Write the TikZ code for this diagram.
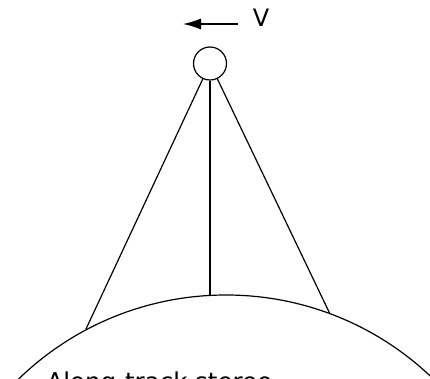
\documentclass[tikz,border=0pt]{standalone}
\usepackage{fontspec}
\setmainfont{DejaVu Sans}
\usepackage{tikz}
\usetikzlibrary{arrows.meta}

\begin{document}
\begin{tikzpicture}[x=1pt, y=-1pt, line width=1.2pt,
  every node/.style={font=\fontsize{24}{28}\selectfont}]
\useasboundingbox (0,0) rectangle (430,379);

% Earth surface
\begin{scope}
\clip (0,0) rectangle (430,379);
\draw (226,593) circle [radius=298pt];
\end{scope}

% Satellite
\node[draw, circle, minimum size=33pt, inner sep=0pt] (sat) at (210,63.5) {};

% Velocity
\coordinate (vstart) at (238,24);
\coordinate (vend) at (183,24);
\draw[-{Latex[length=18pt, width=11pt]}] (vstart) -- (vend);
\node[inner sep=0pt] (vlabel) at (261,18) {V};

% Viewing directions
\coordinate (fore) at (86,329);
\coordinate (nadir) at (210,296);
\coordinate (aft) at (330,314);
\draw (sat) -- (fore);
\draw (sat) -- (nadir);
\draw (sat) -- (aft);

% Caption
\node[anchor=base west, inner sep=0pt, font=\fontsize{24.5}{29}\selectfont] (caption) at (46,390) {Along-track stereo};
\end{tikzpicture}
\end{document}
